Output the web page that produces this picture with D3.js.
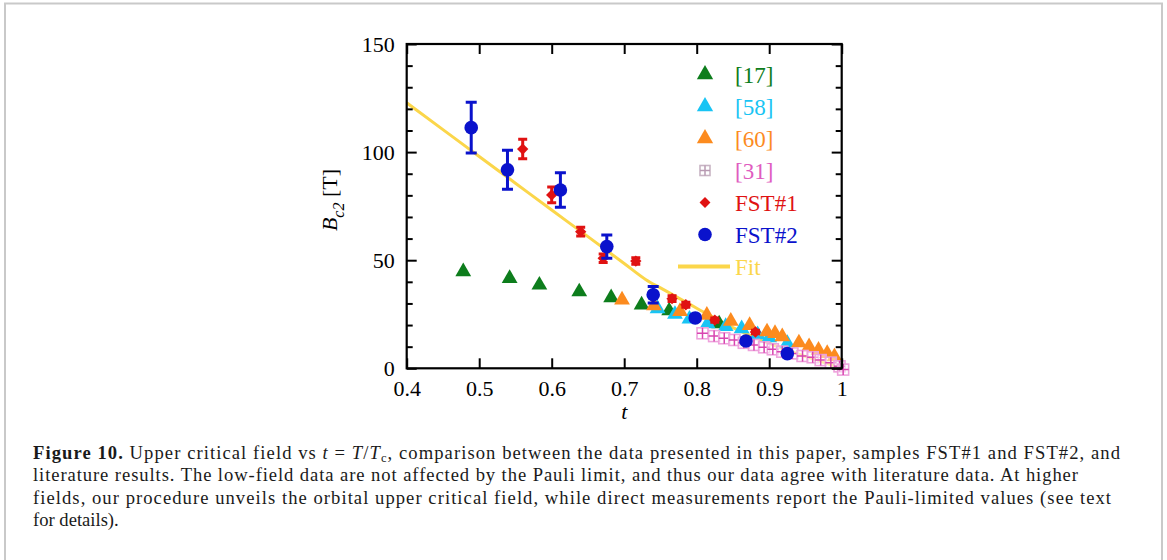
<!DOCTYPE html>
<html><head><meta charset="utf-8">
<script src="https://cdn.jsdelivr.net/npm/d3@7"></script>
<style>body{margin:0;background:#fff}svg{display:block}</style>
</head><body>
<svg id="chart" width="1167" height="560"></svg>
<script>
// ---- data ----
const fitT = [0.40, 0.45, 0.50, 0.55, 0.60, 0.65, 0.70, 0.73, 0.75, 0.80, 0.85, 0.90, 0.95, 1.00];
const fitB = [122.8, 110.4, 98.0, 85.6, 73.2, 60.9, 48.5, 41.0, 37.2, 27.8, 18.8, 11.5, 5.5, 0.0];

const ref17T = [0.478, 0.542, 0.583, 0.638, 0.682, 0.724, 0.762, 0.831];
const ref17B = [44.7, 41.6, 38.5, 35.4, 32.7, 29.3, 26.6, 20.6];

const ref58T = [0.746, 0.770, 0.790, 0.815, 0.840, 0.862, 0.884, 0.900, 0.925];
const ref58B = [27.6, 25.0, 22.8, 20.6, 19.4, 18.3, 15.6, 14.2, 11.5];

const ref60T = [0.697, 0.741, 0.777, 0.814, 0.847, 0.873, 0.897, 0.908, 0.918, 0.941, 0.955, 0.968, 0.980, 0.990];
const ref60B = [31.6, 29.0, 26.3, 24.6, 21.8, 19.8, 16.9, 16.1, 14.6, 11.8, 10.0, 8.4, 6.9, 5.4];

const ref31T = [0.808, 0.824, 0.838, 0.852, 0.865, 0.879, 0.893, 0.905, 0.918, 0.932, 0.946, 0.960, 0.971, 0.985, 0.997, 1.002];
const ref31B = [16.2, 14.9, 13.9, 13.1, 11.8, 10.8, 9.7, 8.8, 7.7, 6.9, 5.7, 5.1, 3.8, 2.6, 0.9, -0.6];

const fst1T = [0.560, 0.600, 0.640, 0.671, 0.716, 0.766, 0.785, 0.825, 0.881];
const fst1B = [101.4, 80.2, 63.2, 50.9, 49.6, 32.2, 29.4, 22.3, 16.8];
const fst1Err = [4.5, 3.6, 2.0, 2.0, 1.5, 1.3, 1.2, 1.0, 0.8];

const fst2T = [0.489, 0.539, 0.612, 0.676, 0.740, 0.798, 0.868, 0.925];
const fst2B = [111.3, 91.8, 82.5, 56.3, 34.0, 23.3, 12.6, 6.8];
const fst2Err = [11.7, 9.0, 8.0, 5.4, 3.8, 0, 0, 0];

const xTickValues = [0.4, 0.5, 0.6, 0.7, 0.8, 0.9, 1.0];
const xTickLabels = ["0.4", "0.5", "0.6", "0.7", "0.8", "0.9", "1"];
const yMajorTicks = [0, 50, 100, 150];
const yMinorTicks = [10, 20, 30, 40, 60, 70, 80, 90, 110, 120, 130, 140];
const legendLabels = ["[17]", "[58]", "[60]", "[31]", "FST#1", "FST#2", "Fit"];

const captionLines = [
  [["b","Figure 10."],["n"," Upper critical field vs "],["i","t"],["n"," = "],["i","T"],["n","/"],["i","T"],["s","c"],["r",", comparison between the data presented in this paper, samples FST#1 and FST#2, and"]],
  [["n","literature results. The low-field data are not affected by the Pauli limit, and thus our data agree with literature data. At higher"]],
  [["n","fields, our procedure unveils the orbital upper critical field, while direct measurements report the Pauli-limited values (see text"]],
  [["n","for details)."]]
];

// ---- styles ----
const C = {green:"#0d7d1c", cyan:"#18c4f4", orange:"#fc8b1f", pinkText:"#e05cc0",
  pinkBox:"#eea2dc", pinkCross:"#d844b0", red:"#e01212", blue:"#0a12cc", fit:"#fbd64a"};
const serif = "'Liberation Serif','DejaVu Serif',serif";

const svg = d3.select("#chart");
// outer frame
svg.append("path").attr("d","M5,562 V3.5 H1162 V562").attr("fill","none")
  .attr("stroke","#c9c9c9").attr("stroke-width",2);

const x = d3.scaleLinear().domain([0.4, 1]).range([406.7, 841.7]);
const y = d3.scaleLinear().domain([0, 150]).range([368.3, 44]);

const g = svg.append("g");

// fit line
const fitData = fitT.map((t,i)=>[t, fitB[i]]);
g.append("path").datum(fitData)
  .attr("d", d3.line().x(d=>x(d[0])).y(d=>y(d[1])).curve(d3.curveMonotoneX))
  .attr("fill","none").attr("stroke",C.fit).attr("stroke-width",3);

const tri = d3.symbol().type(d3.symbolTriangle).size(108);
function triangles(T, B, color){
  g.append("g").selectAll("path").data(T.map((t,i)=>[t,B[i]])).join("path")
    .attr("d", tri).attr("transform", d=>`translate(${x(d[0])},${y(d[1])})`)
    .attr("fill", color);
}
triangles(ref17T, ref17B, C.green);
triangles(ref58T, ref58B, C.cyan);
triangles(ref60T, ref60B, C.orange);

// [31] squares with cross
function boxPlus(sel, s, box, cross){
  sel.append("rect").attr("x",-s/2).attr("y",-s/2).attr("width",s).attr("height",s)
    .attr("fill","rgba(255,255,255,0.5)").attr("stroke",box).attr("stroke-width",1.6);
  sel.append("path").attr("d",`M${-s/2},0H${s/2}M0,${-s/2}V${s/2}`)
    .attr("stroke",cross).attr("stroke-width",1.5);
}
g.append("g").selectAll("g").data(ref31T.map((t,i)=>[t,ref31B[i]])).join("g")
  .attr("transform", d=>`translate(${x(d[0])},${y(d[1])})`)
  .each(function(){ boxPlus(d3.select(this), 11, C.pinkBox, C.pinkCross); });

// error bars
function errorBars(T, B, E, color, cap, w){
  const gg = g.append("g").attr("stroke", color).attr("stroke-width", w).attr("fill","none");
  T.forEach((t,i)=>{
    if (!E[i]) return;
    const cx = x(t), y1 = y(B[i]+E[i]), y2 = y(B[i]-E[i]);
    gg.append("path").attr("d",`M${cx},${y1}V${y2}M${cx-cap/2},${y1}H${cx+cap/2}M${cx-cap/2},${y2}H${cx+cap/2}`);
  });
}
errorBars(fst1T, fst1B, fst1Err, C.red, 9, 3);
const dia = d3.symbol().type(d3.symbolDiamond2).size(82);
g.append("g").selectAll("path").data(fst1T.map((t,i)=>[t,fst1B[i]])).join("path")
  .attr("d", dia).attr("transform", d=>`translate(${x(d[0])},${y(d[1])})`).attr("fill", C.red);

errorBars(fst2T, fst2B, fst2Err, C.blue, 11, 3);
g.append("g").selectAll("circle").data(fst2T.map((t,i)=>[t,fst2B[i]])).join("circle")
  .attr("cx", d=>x(d[0])).attr("cy", d=>y(d[1])).attr("r", 6.8).attr("fill", C.blue);

// axes
const axG = svg.append("g");
function styleAxis(sel){
  sel.select(".domain").remove();
  sel.selectAll(".tick line").attr("stroke","#000").attr("stroke-width",2);
  sel.selectAll(".tick text").attr("font-family",serif).attr("font-size",22).attr("fill","#000");
}
axG.append("g").attr("transform",`translate(0,${y(0)})`)
  .call(d3.axisBottom(x).tickValues(xTickValues).tickSize(-10).tickPadding(12)
    .tickFormat((d,i)=>xTickLabels[i]))
  .call(styleAxis);
axG.append("g").attr("transform",`translate(0,${y(150)})`)
  .call(d3.axisTop(x).tickValues(xTickValues).tickSize(-10).tickFormat(""))
  .call(styleAxis);
axG.append("g").attr("transform",`translate(${x(0.4)},0)`)
  .call(d3.axisLeft(y).tickValues(yMajorTicks).tickSize(-10).tickPadding(12).tickFormat(d3.format("d")))
  .call(styleAxis);
axG.append("g").attr("transform",`translate(${x(0.4)},0)`)
  .call(d3.axisLeft(y).tickValues(yMinorTicks).tickSize(-6).tickFormat(""))
  .call(styleAxis);
axG.append("g").attr("transform",`translate(${x(1)},0)`)
  .call(d3.axisRight(y).tickValues(yMajorTicks).tickSize(-10).tickFormat(""))
  .call(styleAxis);
axG.append("g").attr("transform",`translate(${x(1)},0)`)
  .call(d3.axisRight(y).tickValues(yMinorTicks).tickSize(-6).tickFormat(""))
  .call(styleAxis);
svg.selectAll(".tick text").each(function(){
  const t = d3.select(this);
  if (t.attr("y") && +t.attr("y") > 0) t.attr("dy","0.71em");
  else t.attr("dy","0.32em");
});
axG.append("rect").attr("x",x(0.4)).attr("y",y(150)).attr("width",x(1)-x(0.4)).attr("height",y(0)-y(150))
  .attr("fill","none").attr("stroke","#000").attr("stroke-width",2.2);

// axis titles
svg.append("text").attr("x", (x(0.4)+x(1))/2).attr("y", 419).attr("text-anchor","middle")
  .attr("font-family",serif).attr("font-size",22).attr("font-style","italic").text("t");
const yl = svg.append("text").attr("transform","translate(337,200) rotate(-90)").attr("text-anchor","middle")
  .attr("font-family",serif).attr("font-size",22);
yl.append("tspan").attr("font-style","italic").text("B");
yl.append("tspan").attr("font-style","italic").attr("font-size",16).attr("dy",7).text("c2");
yl.append("tspan").attr("dy",-7).text(" [T]");

// legend
const legColors = [C.green, C.cyan, C.orange, C.pinkText, C.red, C.blue, C.fit];
const leg = svg.append("g");
legendLabels.forEach((lab,i)=>{
  const ly = 74.5 + i*32;
  const row = leg.append("g").attr("transform",`translate(705,${ly})`);
  if (i < 3) row.append("path").attr("d", d3.symbol().type(d3.symbolTriangle).size(115)).attr("fill", legColors[i]);
  else if (i === 3) boxPlus(row, 10, "#c8b4c4", "#b89ab2");
  else if (i === 4) row.append("path").attr("d", d3.symbol().type(d3.symbolDiamond2).size(76)).attr("fill", C.red);
  else if (i === 5) row.append("circle").attr("r",6.8).attr("fill", C.blue);
  else row.append("line").attr("x1",-27).attr("x2",25).attr("stroke",C.fit).attr("stroke-width",4);
  leg.append("text").attr("x",735).attr("y",ly).attr("dy","0.35em")
    .attr("font-family",serif).attr("font-size",23).attr("fill",legColors[i]).text(lab);
});

// caption
const capWidths = [1087, 1045, 1078, null];
captionLines.forEach((line, li)=>{
  const tx = svg.append("text").attr("x",33).attr("y",459 + li*22.3)
    .attr("font-family",serif).attr("font-size",18.6).attr("fill","#1a1a1a");
  line.forEach(([k, s])=>{
    const sp = tx.append("tspan").text(s);
    if (k==="b") sp.attr("font-weight","bold");
    if (k==="i") sp.attr("font-style","italic");
    if (k==="s") sp.attr("font-size",12.5).attr("dy",3);
    if (k==="r") sp.attr("dy",-3);
  });
  if (capWidths[li]) tx.attr("textLength", capWidths[li]).attr("lengthAdjust","spacing");
});
</script>
</body></html>
